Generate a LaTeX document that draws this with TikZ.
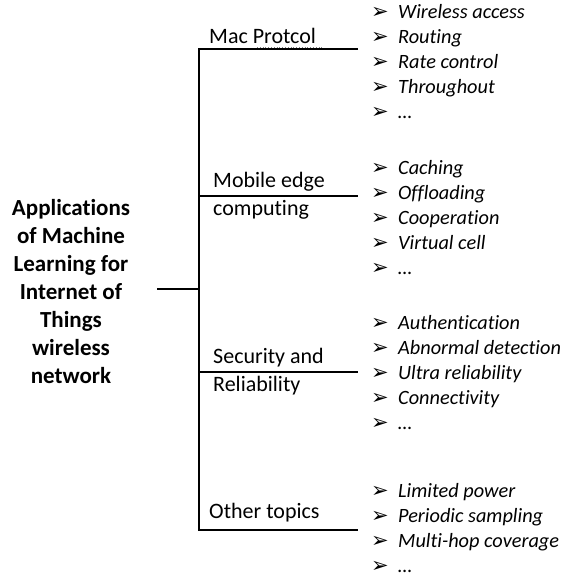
\documentclass[tikz,border=0pt]{standalone}
\usepackage{fontspec}
\setmainfont{Carlito}[Ligatures=CommonOff]
\newfontfamily\jelfont{DejaVu Sans}
\usetikzlibrary{positioning,calc}
\newcommand{\pont}[1]{\makebox[27pt][l]{\raisebox{-0.5pt}{\jelfont\bfseries\fontsize{21}{21}\selectfont ➢}}\textit{#1}}
\tikzset{
  gyoker/.style={font=\fontsize{23}{28}\selectfont\bfseries,align=center,inner sep=0pt},
  tema/.style={font=\fontsize{22}{28}\selectfont,anchor=base west,inner sep=0pt},
  lista/.style={font=\fontsize{20.3}{25}\selectfont,align=left,anchor=base west,inner sep=0pt},
  vonal/.style={line width=1.2pt},
}
\begin{document}
\begin{tikzpicture}[x=1pt,y=1pt]
  \useasboundingbox (0,0) rectangle (565,-578);
  % gyoker es a fo vonal (base = utolso sor)
  \node[gyoker,anchor=base] (root) at (71,-383) {Applications\\of Machine\\Learning for\\Internet of\\Things\\wireless\\network};
  \coordinate (c0) at (157,-289);
  \coordinate (j0) at (199,-289);
  \coordinate (f1) at (199,-49);  \coordinate (v1) at (358,-49);
  \coordinate (f2) at (199,-196); \coordinate (v2) at (358,-196);
  \coordinate (f3) at (199,-372); \coordinate (v3) at (358,-372);
  \coordinate (f4) at (199,-530); \coordinate (v4) at (358,-530);
  \draw[vonal] (c0) -- (j0);
  \draw[vonal] (v1) -- (f1) -- (f4) -- (v4);
  \draw[vonal] (f2) -- (v2); \draw[vonal] (f3) -- (v3);
  % temak
  \node[tema] (t1) at (209,-44) {Mac Protcol};
  \draw[gray,dotted,line width=0.8pt] ($(t1.base west)+(48,-3.5)$) -- ($(t1.base east)+(6,-3.5)$);
  \node[tema] (t2a) at (213,-187) {Mobile edge};
  \node[tema] (t2b) at (213,-215) {computing};
  \node[tema] (t3a) at (213,-363) {Security and};
  \node[tema] (t3b) at (213,-391) {Reliability};
  \node[tema] (t4) at (209,-518) {Other topics};
  % listak (base = utolso sor)
  \node[lista] (l1) at (371,-118) {\pont{Wireless access}\\\pont{Routing}\\\pont{Rate control}\\\pont{Throughout}\\\pont{…}};
  \node[lista] (l2) at (371,-274) {\pont{Caching}\\\pont{Offloading}\\\pont{Cooperation}\\\pont{Virtual cell}\\\pont{…}};
  \node[lista] (l3) at (371,-429) {\pont{Authentication}\\\pont{Abnormal detection}\\\pont{Ultra reliability}\\\pont{Connectivity}\\\pont{…}};
  \node[lista] (l4) at (371,-572) {\pont{Limited power}\\\pont{Periodic sampling}\\\pont{Multi-hop coverage}\\\pont{…}};
\end{tikzpicture}
\end{document}
